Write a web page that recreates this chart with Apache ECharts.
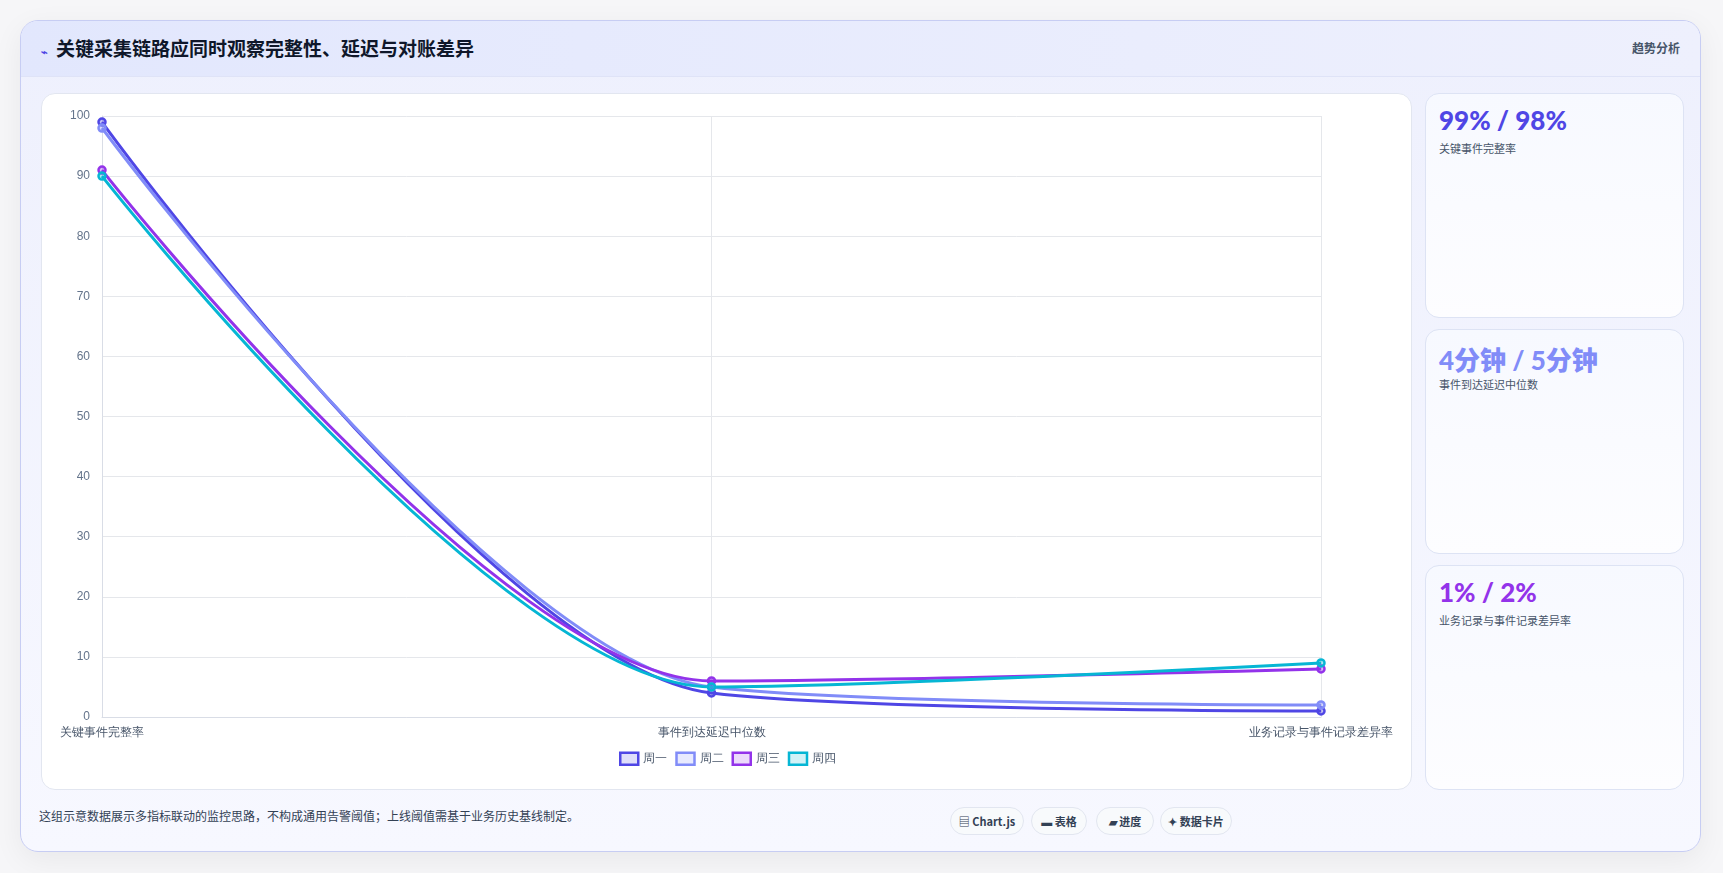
<!DOCTYPE html>
<html><head><meta charset="utf-8">
<script src="https://cdn.jsdelivr.net/npm/echarts@6/dist/echarts.min.js"></script>
<style>
*{box-sizing:border-box;margin:0;padding:0}
body{width:1723px;height:873px;background:#f6f6f8;font-family:"Noto Sans CJK SC","Noto Sans",sans-serif;position:relative;overflow:hidden}
#card{position:absolute;left:20px;top:20px;width:1681px;height:832px;border:1px solid #c7cdf3;border-radius:18px;background:linear-gradient(180deg,#eef0fd,#f7f8ff);box-shadow:0 8px 30px rgba(0,0,0,0.06);overflow:hidden}
#head{position:absolute;left:0;top:0;right:0;height:56px;background:linear-gradient(90deg,#e2e7fd,#eef0fd);border-bottom:1px solid #dfe3f7}
#title{position:absolute;left:20px;top:13px;font-size:19px;font-weight:700;color:#0f172a}
#title span{font-size:11px;color:#4f46e5;margin-right:8px}
#tag{position:absolute;right:20px;top:18px;font-size:12px;color:#475569;font-weight:600}
#panel{position:absolute;left:20px;top:72px;width:1371px;height:697px;background:#fff;border:1px solid #e2e6f0;border-radius:14px}
#chart{position:absolute;left:0;top:0;width:1371px;height:697px}
.kc{position:absolute;left:1404px;width:259px;border:1px solid #dde3f4;border-radius:14px;background:linear-gradient(180deg,#f7f9ff,#fdfdff)}
.kv{position:absolute;left:13px;top:10px;font-family:Lato,"Noto Sans CJK SC",sans-serif;font-weight:900;font-size:26px}
.kl{position:absolute;left:13px;top:46px;font-size:11px;color:#475569}
#note{position:absolute;left:18px;top:786px;font-size:12px;color:#334155}
.chip{position:absolute;top:786px;height:28px;border:1px solid #e2e6f0;border-radius:14px;background:#f8fafc;font-size:11px;font-weight:700;color:#334155;line-height:26px;text-align:center}
</style></head><body>
<div id="card">
 <div id="head"><div id="title"><span>⌁</span>关键采集链路应同时观察完整性、延迟与对账差异</div><div id="tag">趋势分析</div></div>
 <div id="panel"><div id="chart"></div></div>
 <div class="kc" style="top:72px;height:225px"><div class="kv" style="color:#4f46e5">99% / 98%</div><div class="kl">关键事件完整率</div></div>
 <div class="kc" style="top:308px;height:225px"><div class="kv" style="color:#818cf8">4分钟 / 5分钟</div><div class="kl">事件到达延迟中位数</div></div>
 <div class="kc" style="top:544px;height:225px"><div class="kv" style="color:#9333ea">1% / 2%</div><div class="kl">业务记录与事件记录差异率</div></div>
 <div id="note">这组示意数据展示多指标联动的监控思路，不构成通用告警阈值；上线阈值需基于业务历史基线制定。</div>
 <div class="chip" style="left:929px;width:74px">▤ Chart.js</div>
 <div class="chip" style="left:1010px;width:56px">▬ 表格</div>
 <div class="chip" style="left:1075px;width:58px">▰ 进度</div>
 <div class="chip" style="left:1139px;width:72px">✦ 数据卡片</div>
</div>
<script>
const categories=["关键事件完整率","事件到达延迟中位数","业务记录与事件记录差异率"];
const seriesNames=["周一","周二","周三","周四"];
const mon=[99,4,1];
const tue=[98,5,2];
const wed=[91,6,8];
const thu=[90,5,9];
const colors=["#4f46e5","#818cf8","#9333ea","#06b6d4"];
const fills=["rgba(79,70,229,0.18)","rgba(129,140,248,0.18)","rgba(147,51,234,0.18)","rgba(6,182,212,0.18)"];
const data=[mon,tue,wed,thu];
const ch=echarts.init(document.getElementById('chart'));
ch.setOption({
 animation:false,
 grid:{left:60,right:92,top:22,bottom:74},
 legend:{bottom:20,left:'center',itemWidth:18,itemHeight:12,itemGap:8,icon:'rect',textStyle:{color:'#475569',fontSize:12},
   data:seriesNames.map((n,i)=>({name:n,itemStyle:{color:fills[i],borderColor:colors[i],borderWidth:2.5}}))},
 xAxis:{type:'category',data:categories,boundaryGap:false,
   axisLine:{lineStyle:{color:'#d9dde6'}},axisTick:{show:false},
   axisLabel:{color:'#475569',fontSize:12,margin:10},
   splitLine:{show:true,lineStyle:{color:'#e5e7eb'}}},
 yAxis:{type:'value',min:0,max:100,interval:10,
   axisLine:{show:true,lineStyle:{color:'#d9dde6'}},
   axisLabel:{color:'#64748b',fontSize:12,margin:12},
   splitLine:{lineStyle:{color:'#e5e7eb'}}},
 series:data.map((d,i)=>({name:seriesNames[i],type:'line',data:d,smooth:0.3,
   symbol:'circle',symbolSize:7,lineStyle:{color:colors[i],width:3},
   itemStyle:{color:fills[i].replace('0.18','0.35'),borderColor:colors[i],borderWidth:2.5}}))
});
</script>
</body></html>
